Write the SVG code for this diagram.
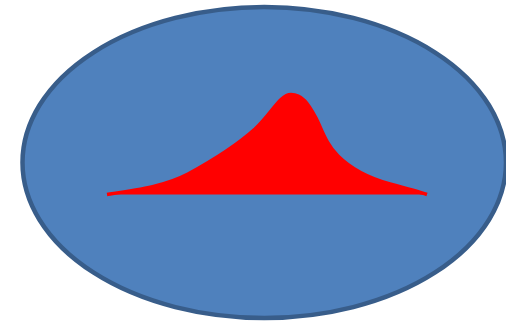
<svg xmlns="http://www.w3.org/2000/svg" width="506" height="321" viewBox="0 0 506 321">
  <style>
    .oval { fill: #4F81BD; stroke: #385D8A; stroke-width: 4.5; }
    .bell { fill: #FF0000; stroke: #FF0000; stroke-width: 3.5; stroke-linejoin: round; }
  </style>
  <rect width="506" height="321" fill="#FFFFFF"/>
  <g id="oval">
    <ellipse class="oval" cx="264.25" cy="162.5" rx="241.75" ry="155.5"/>
  </g>
  <g id="bell-curve">
    <path class="bell" d="M107,194.5 C140,189.5 165,186 188,174 C210,162 235,147 255,129 C272,113 280,94.5 291,94.5 C302,94.5 308,103 316,118 C322,130 326,144 338,156 C350,168 368,178 390,184 C405,188 418,191.5 427,194.5"/>
  </g>
</svg>
